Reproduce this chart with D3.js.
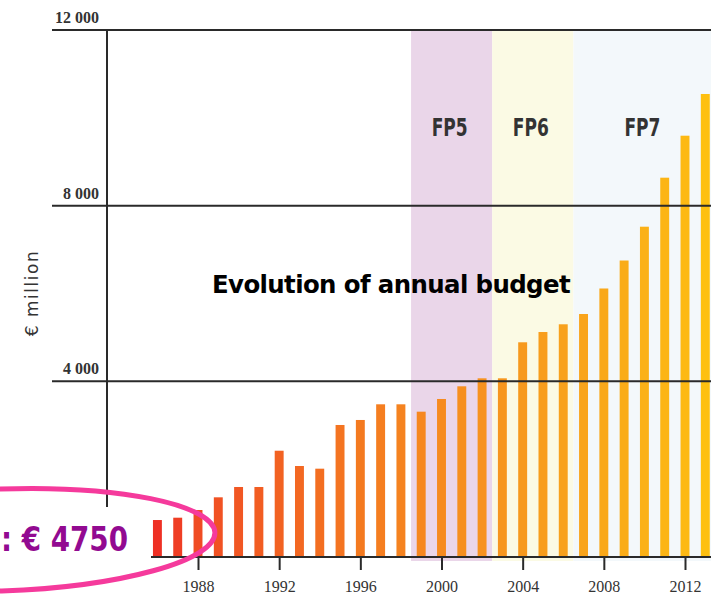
<!DOCTYPE html>
<html>
<head>
<meta charset="utf-8">
<script src="https://cdn.jsdelivr.net/npm/d3@7"></script>
<style>
  html, body { margin: 0; padding: 0; background: #fff; }
  svg { display: block; }
</style>
</head>
<body>
<svg id="chart" width="711" height="594"></svg>
<script>
// ---- data ----
const years = [1986, 1987, 1988, 1989, 1990, 1991, 1992, 1993, 1994, 1995, 1996, 1997, 1998, 1999,
               2000, 2001, 2002, 2003, 2004, 2005, 2006, 2007, 2008, 2009, 2010, 2011, 2012, 2013];
const budget = [842, 895, 1070, 1359, 1594, 1594, 2420, 2072, 2011, 3006, 3120, 3477, 3477, 3309,
                3598, 3887, 4069, 4069, 4889, 5123, 5299, 5533, 6114, 6751, 7521, 8637, 9593, 10543];
const programmes = ["FP5", "FP6", "FP7"];
const progFirstYear = [1999, 2003, 2007];
const progLastYear = [2002, 2006, 2013];
const yTicks = [4000, 8000, 12000];
const xTicks = [1988, 1992, 1996, 2000, 2004, 2008, 2012];
const chartTitle = "Evolution of annual budget";
const yTitle = "€ million";
const callout = ": € 4750";

// ---- scales ----
const svg = d3.select("#chart");
const x = d3.scaleLinear().domain([1988, 2012]).range([198, 685]);
const y = d3.scaleLinear().domain([0, 12000]).range([557, 30]);
const colour = d3.scaleLinear()
  .domain([1986, 1988, 1992, 1996, 2000, 2004, 2008, 2012, 2013])
  .range(["#ee3024", "#f04c23", "#f26222", "#f47a20", "#f68b1f", "#f7991d", "#f9a81a", "#fdb913", "#fec010"]);
const bandFill = ["#ead6e9", "#fbfae4", "#f3f8fb"];
const fmt = d3.formatLocale({ decimal: ".", thousands: " ", grouping: [3], currency: ["", ""] }).format(",d");

// ---- programme bands ----
const bands = programmes.map((p, i) => ({ name: p, a: progFirstYear[i] - 0.5, b: progLastYear[i] + 0.5, i }));
svg.append("g").selectAll("rect").data(bands).join("rect")
  .attr("x", d => x(d.a))
  .attr("width", d => x(d.b) - x(d.a))
  .attr("y", y(12000))
  .attr("height", y(0) - y(12000) + 4)
  .attr("fill", d => bandFill[d.i]);

svg.append("g").selectAll("text").data(bands).join("text")
  .attr("x", d => x((d.a + d.b) / 2) - 2)
  .attr("y", 136)
  .attr("text-anchor", "middle")
  .attr("font-family", "'DejaVu Sans Condensed', 'DejaVu Sans', sans-serif")
  .attr("font-size", 24)
  .attr("font-weight", "bold")
  .attr("textLength", 36)
  .attr("lengthAdjust", "spacingAndGlyphs")
  .attr("fill", "#333")
  .text(d => d.name);

// ---- bars ----
const data = years.map((yr, i) => ({ year: yr, value: budget[i] }));
const half = 0.22;
svg.append("g").selectAll("rect").data(data).join("rect")
  .attr("x", d => x(d.year - half))
  .attr("width", d => x(d.year + half) - x(d.year - half))
  .attr("y", d => y(d.value))
  .attr("height", d => y(0) - y(d.value))
  .attr("fill", d => colour(d.year));

// ---- gridlines & y labels ----
const grid = svg.append("g");
grid.selectAll("line").data(yTicks).join("line")
  .attr("x1", 52).attr("x2", 711)
  .attr("y1", d => y(d)).attr("y2", d => y(d))
  .attr("stroke", "#2a2a2a").attr("stroke-width", 2);
grid.selectAll("text").data(yTicks).join("text")
  .attr("x", 99)
  .attr("y", d => y(d) - 7)
  .attr("text-anchor", "end")
  .attr("font-family", "'Liberation Serif', 'DejaVu Serif', serif")
  .attr("font-size", 16)
  .attr("font-weight", "bold")
  .attr("fill", "#333")
  .text(d => fmt(d));

// y axis line
svg.append("line")
  .attr("x1", 107).attr("x2", 107)
  .attr("y1", y(12000)).attr("y2", 507)
  .attr("stroke", "#2a2a2a").attr("stroke-width", 2);

// y title
svg.append("text")
  .attr("transform", "translate(38,293) rotate(-90)")
  .attr("text-anchor", "middle")
  .attr("font-family", "'DejaVu Sans', sans-serif")
  .attr("font-size", 17)
  .attr("letter-spacing", 1.5)
  .attr("fill", "#333")
  .text(yTitle);

// ---- x axis ----
svg.append("line")
  .attr("x1", 151).attr("x2", 711)
  .attr("y1", y(0)).attr("y2", y(0))
  .attr("stroke", "#2a2a2a").attr("stroke-width", 2);
const xAxis = svg.append("g")
  .attr("transform", `translate(0,${y(0)})`)
  .call(d3.axisBottom(x).tickValues(xTicks).tickSize(13).tickPadding(11).tickFormat(d3.format("d")));
xAxis.select(".domain").remove();
xAxis.selectAll(".tick line").attr("stroke", "#2a2a2a").attr("stroke-width", 2);
xAxis.selectAll(".tick text")
  .attr("font-family", "'Liberation Serif', 'DejaVu Serif', serif")
  .attr("font-size", 16)
  .attr("fill", "#333");

// ---- title ----
svg.append("text")
  .attr("x", 391)
  .attr("y", 293)
  .attr("text-anchor", "middle")
  .attr("font-family", "'DejaVu Sans', Verdana, sans-serif")
  .attr("font-weight", "bold")
  .attr("font-size", 24)
  .attr("letter-spacing", -0.6)
  .attr("textLength", 358)
  .attr("lengthAdjust", "spacingAndGlyphs")
  .attr("fill", "#000")
  .text(chartTitle);

// ---- callout ----
svg.append("ellipse")
  .attr("cx", 0).attr("cy", 540)
  .attr("rx", 215).attr("ry", 51)
  .attr("transform", "rotate(-2,0,540)")
  .attr("fill", "none")
  .attr("stroke", "#f53a9c")
  .attr("stroke-width", 5);
svg.append("text")
  .attr("x", 1)
  .attr("y", 551)
  .attr("text-anchor", "start")
  .attr("font-family", "'DejaVu Sans', Verdana, sans-serif")
  .attr("font-weight", "bold")
  .attr("font-size", 34)
  .attr("textLength", 127)
  .attr("lengthAdjust", "spacingAndGlyphs")
  .attr("fill", "#920a91")
  .text(callout);
</script>
</body>
</html>
